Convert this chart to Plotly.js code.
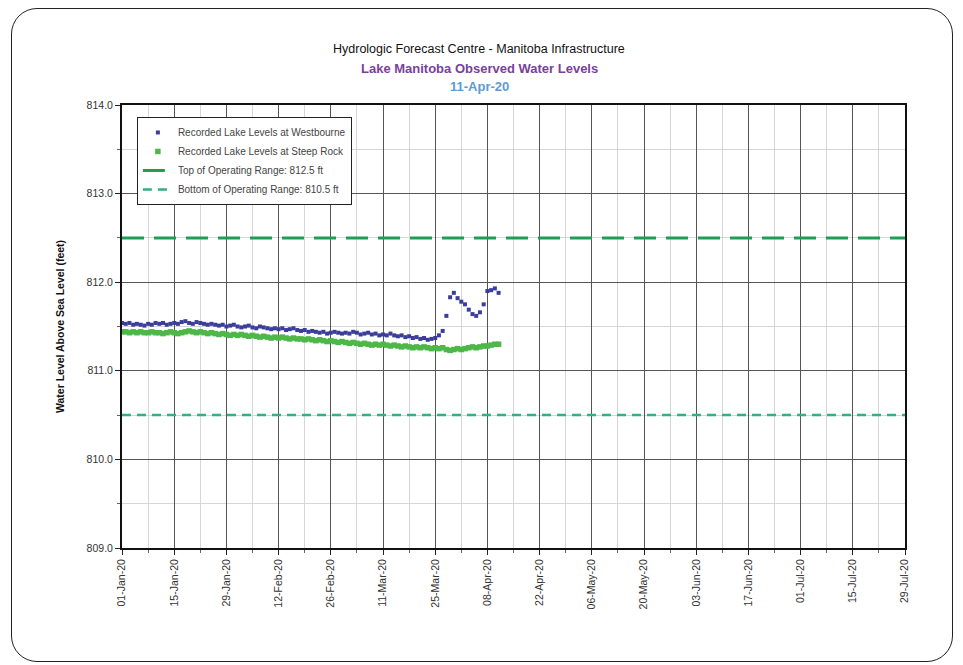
<!DOCTYPE html>
<html>
<head>
<meta charset="utf-8">
<script src="https://cdn.plot.ly/plotly-3.0.1.min.js"></script>
<style>
  html, body { margin: 0; padding: 0; background: #ffffff; }
  #wrap { position: relative; width: 963px; height: 665px; }
  #chart { width: 963px; height: 665px; }
  #frame { position: absolute; left: 11px; top: 8px; width: 940px; height: 652px;
           border: 1.5px solid #222; border-radius: 26px; pointer-events: none; }
</style>
</head>
<body>
<div id="wrap">
  <div id="chart"></div>
  <div id="frame"></div>
</div>
<script>
// ---- Data ----
const startDate = '2020-01-01';
const rangeStart = '2020-01-01';
const rangeEnd = '2020-07-29';

const westbourne = [
  811.54, 811.53, 811.54, 811.52, 811.53, 811.52, 811.51, 811.53, 811.52, 811.54,
  811.53, 811.54, 811.52, 811.53, 811.54, 811.53, 811.55, 811.56, 811.54, 811.53,
  811.55, 811.54, 811.53, 811.52, 811.53, 811.52, 811.51, 811.52, 811.50, 811.51, 811.52,
  811.50, 811.49, 811.50, 811.51, 811.49, 811.48, 811.50, 811.49, 811.48, 811.47,
  811.48, 811.47, 811.48, 811.46, 811.47, 811.48, 811.46, 811.45, 811.46, 811.44,
  811.45, 811.44, 811.43, 811.44, 811.42, 811.43, 811.44, 811.43, 811.42,
  811.43, 811.42, 811.44, 811.43, 811.41, 811.42, 811.43, 811.41, 811.42, 811.40,
  811.41, 811.40, 811.42, 811.40, 811.39, 811.40, 811.38, 811.39, 811.37, 811.38,
  811.36, 811.37, 811.35, 811.36, 811.37, 811.40, 811.45,
  811.62, 811.83, 811.88, 811.82, 811.78, 811.75, 811.69, 811.64, 811.62, 811.66,
  811.75, 811.90, 811.91, 811.93, 811.88
];

const steepRock = [
  811.44, 811.44, 811.43, 811.44, 811.43, 811.44, 811.43, 811.43, 811.44, 811.43,
  811.43, 811.42, 811.43, 811.44, 811.43, 811.42, 811.43, 811.44, 811.45, 811.44,
  811.43, 811.44, 811.43, 811.42, 811.43, 811.42, 811.41, 811.42, 811.41, 811.40, 811.41,
  811.40, 811.41, 811.40, 811.39, 811.40, 811.39, 811.38, 811.39, 811.38, 811.37,
  811.38, 811.37, 811.38, 811.37, 811.36, 811.37, 811.36, 811.36, 811.35, 811.36,
  811.35, 811.34, 811.35, 811.34, 811.33, 811.34, 811.33, 811.32, 811.33,
  811.32, 811.31, 811.32, 811.31, 811.30, 811.31, 811.30, 811.29, 811.30, 811.29,
  811.30, 811.29, 811.28, 811.29, 811.28, 811.27, 811.28, 811.27, 811.26, 811.27,
  811.26, 811.27, 811.26, 811.25, 811.26, 811.25, 811.26, 811.24, 811.23, 811.24,
  811.25, 811.24, 811.25, 811.26, 811.27, 811.26, 811.27, 811.28, 811.28, 811.29,
  811.30, 811.30
];

const topOfRange = 812.5;
const bottomOfRange = 810.5;

const seriesNames = [
  'Recorded Lake Levels at Westbourne',
  'Recorded Lake Levels at Steep Rock',
  'Top of Operating Range: 812.5 ft',
  'Bottom of Operating Range: 810.5 ft'
];

const titleLines = [
  'Hydrologic Forecast Centre - Manitoba Infrastructure',
  'Lake Manitoba Observed Water Levels',
  '11-Apr-20'
];
const yTitle = 'Water Level Above Sea Level (feet)';

// build daily date strings
function dailyDates(start, n) {
  const out = [];
  const d0 = new Date(start + 'T00:00:00Z');
  for (let i = 0; i < n; i++) {
    const d = new Date(d0.getTime() + i * 86400000);
    out.push(d.toISOString().slice(0, 10));
  }
  return out;
}
const datesW = dailyDates(startDate, westbourne.length);
const datesS = dailyDates(startDate, steepRock.length);

const DAY = 86400000;
const font = 'Arial, "Liberation Sans", sans-serif';

const traces = [
  {
    x: [rangeStart, rangeEnd], y: [topOfRange, topOfRange],
    type: 'scatter', mode: 'lines', name: seriesNames[2],
    line: { color: '#1e9e52', width: 3, dash: '22px,10px' },
    legendrank: 3, hoverinfo: 'skip'
  },
  {
    x: [rangeStart, rangeEnd], y: [bottomOfRange, bottomOfRange],
    type: 'scatter', mode: 'lines', name: seriesNames[3],
    line: { color: '#2fb085', width: 2.5, dash: '9px,6px' },
    legendrank: 4, hoverinfo: 'skip'
  },
  {
    x: datesS, y: steepRock, type: 'scatter', mode: 'markers', name: seriesNames[1],
    marker: { symbol: 'square', size: 5.5, color: '#4db848' },
    legendrank: 2
  },
  {
    x: datesW, y: westbourne, type: 'scatter', mode: 'markers', name: seriesNames[0],
    marker: { symbol: 'square', size: 4, color: '#3b3d9c' },
    legendrank: 1
  }
];

const layout = {
  width: 963, height: 665,
  margin: { l: 122, r: 58, t: 105, b: 117 },
  paper_bgcolor: '#ffffff', plot_bgcolor: '#ffffff',
  font: { family: font, size: 10, color: '#333' },
  showlegend: true,
  legend: {
    x: 0.019, y: 0.973, xanchor: 'left', yanchor: 'top',
    bgcolor: '#ffffff', bordercolor: '#222', borderwidth: 1,
    font: { family: font, size: 10, color: '#444' },
    traceorder: 'normal'
  },
  xaxis: {
    type: 'date',
    range: [rangeStart, rangeEnd],
    tick0: rangeStart, dtick: 14 * DAY,
    tickformat: '%d-%b-%y', tickangle: -90,
    ticks: 'outside', ticklen: 5, tickcolor: '#222',
    showgrid: true, gridcolor: '#555', gridwidth: 1,
    showline: true, linecolor: '#111', linewidth: 2, mirror: true,
    zeroline: false,
    tickfont: { family: font, size: 10.5, color: '#333' },
    minor: { dtick: 7 * DAY, tick0: rangeStart, showgrid: true, gridcolor: '#d6d6d6',
             gridwidth: 1, ticks: 'outside', ticklen: 3, tickcolor: '#666' }
  },
  yaxis: {
    range: [809, 814],
    dtick: 1, tick0: 809, tickformat: '.1f',
    ticks: 'outside', ticklen: 5, tickcolor: '#222',
    showgrid: true, gridcolor: '#555', gridwidth: 1,
    showline: true, linecolor: '#111', linewidth: 2, mirror: true,
    zeroline: false,
    tickfont: { family: font, size: 10.5, color: '#333' },
    minor: { dtick: 0.5, showgrid: true, gridcolor: '#d6d6d6', gridwidth: 1,
             ticks: 'outside', ticklen: 3, tickcolor: '#666' },
    title: { text: yTitle, standoff: 20,
             font: { family: font, size: 10.5, color: '#111', weight: 'bold' } }
  },
  annotations: [
    { text: titleLines[0], xref: 'paper', yref: 'paper', x: 0.456, y: 1.126,
      xanchor: 'center', yanchor: 'middle', showarrow: false,
      font: { family: font, size: 12.5, color: '#111' } },
    { text: '<b>' + titleLines[1] + '</b>', xref: 'paper', yref: 'paper', x: 0.456, y: 1.083,
      xanchor: 'center', yanchor: 'middle', showarrow: false,
      font: { family: font, size: 13, color: '#7a3f9d' } },
    { text: '<b>' + titleLines[2] + '</b>', xref: 'paper', yref: 'paper', x: 0.456, y: 1.042,
      xanchor: 'center', yanchor: 'middle', showarrow: false,
      font: { family: font, size: 13, color: '#5b9bd5' } }
  ]
};

Plotly.newPlot('chart', traces, layout, { displayModeBar: false, staticPlot: true });
</script>
</body>
</html>
